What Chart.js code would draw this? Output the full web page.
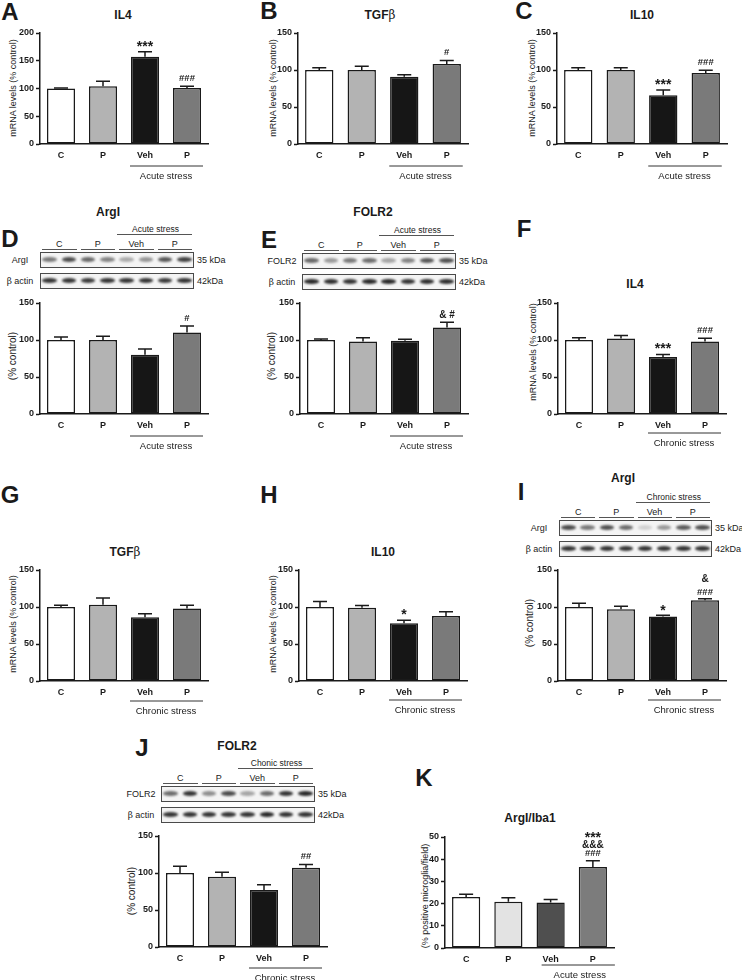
<!DOCTYPE html>
<html><head><meta charset="utf-8">
<script src="https://cdn.jsdelivr.net/npm/chart.js@4/dist/chart.umd.min.js"></script>
<style>
body{margin:0;background:#fff;}
#fig{position:relative;width:742px;height:980px;overflow:hidden;font-family:'Liberation Sans',Arial,sans-serif;color:#1a1a1a;}
.t{position:absolute;white-space:nowrap;transform:translate(-50%,-50%);line-height:1;}
.l{position:absolute;white-space:nowrap;transform:translate(0,-50%);line-height:1;}
.yt{position:absolute;white-space:nowrap;line-height:1;transform:translate(-50%,-50%) rotate(-90deg);}
.let{font-weight:bold;font-size:24px;}
.ttl{font-weight:bold;font-size:12px;}
canvas{position:absolute;}
.box{position:absolute;border:1.5px solid #4a4a4a;background:#f4f4f4;box-sizing:border-box;}
.band{position:absolute;border-radius:50%;filter:blur(0.8px);}
.hl{position:absolute;height:0;border-top:1px solid #555;}
.beta{font-family:'DejaVu Serif',serif;font-weight:normal;}
</style></head><body><div id="fig"></div>
<script>
// ---------------- DATA ----------------
const categories = ['C', 'P', 'Veh', 'P'];

const il4AcuteVals = [100, 104, 157, 101];
const il4AcuteErr  = [1, 9, 9, 3];
const il4AcuteSig  = ['', '', '***', '###'];

const tgfAcuteVals = [100, 100, 91, 108];
const tgfAcuteErr  = [3, 5, 2.5, 5];
const tgfAcuteSig  = ['', '', '', '#'];

const il10AcuteVals = [100, 100, 66, 96];
const il10AcuteErr  = [3, 3, 7, 3.5];
const il10AcuteSig  = ['', '', '***', '###'];

const argAcuteVals = [100, 100, 80, 110];
const argAcuteErr  = [4, 5, 8, 9];
const argAcuteSig  = ['', '', '', '#'];

const folrAcuteVals = [100, 98, 99, 117];
const folrAcuteErr  = [1.5, 5, 2, 7];
const folrAcuteSig  = ['', '', '', '& #'];

const il4ChronicVals = [100, 102, 77, 98];
const il4ChronicErr  = [3, 4, 3.5, 4.5];
const il4ChronicSig  = ['', '', '***', '###'];

const tgfChronicVals = [100, 103, 86, 98];
const tgfChronicErr  = [2.5, 9, 5, 4.5];
const tgfChronicSig  = ['', '', '', ''];

const il10ChronicVals = [100, 99, 78, 88];
const il10ChronicErr  = [7.5, 3, 4, 5.5];
const il10ChronicSig  = ['', '', '*', ''];

const argChronicVals = [100, 97, 87, 109];
const argChronicErr  = [5, 4, 2, 2];
const argChronicSig  = ['', '', '*', '&\n###'];

const folrChronicVals = [100, 95, 77, 107];
const folrChronicErr  = [9, 6, 7, 4.5];
const folrChronicSig  = ['', '', '', '##'];

const argIbaVals = [23, 20.8, 20.5, 36.5];
const argIbaErr  = [1.2, 1.8, 1.4, 2.8];
const argIbaSig  = ['', '', '', '***\n&&&\n###'];

// blot band darkness per lane (8 lanes)
const blotArgAcuteTop   = [0.55, 0.75, 0.62, 0.5, 0.32, 0.42, 0.7, 0.8];
const blotArgAcuteAct   = [0.85, 0.85, 0.82, 0.85, 0.85, 0.85, 0.82, 0.85];
const blotFolrAcuteTop  = [0.62, 0.4, 0.55, 0.6, 0.35, 0.5, 0.7, 0.72];
const blotFolrAcuteAct  = [0.9, 0.88, 0.85, 0.9, 0.9, 0.85, 0.88, 0.88];
const blotArgChronicTop = [0.75, 0.55, 0.72, 0.6, 0.15, 0.4, 0.68, 0.72];
const blotArgChronicAct = [0.85, 0.85, 0.85, 0.85, 0.85, 0.85, 0.85, 0.85];
const blotFolrChronicTop= [0.6, 0.85, 0.45, 0.75, 0.35, 0.6, 0.85, 0.9];
const blotFolrChronicAct= [0.85, 0.85, 0.85, 0.85, 0.85, 0.9, 0.85, 0.85];

// ---------------- STYLE / LAYOUT ----------------
const barColors = ['#ffffff', '#b3b3b3', '#161616', '#7a7a7a'];
const barColorsK = ['#ffffff', '#e3e3e3', '#4f4f4f', '#7c7c7c'];

const layout = {
  A:{ax:40, r:208, t:33, z:144, lo:22},
  B:{ax:298, r:468, t:33, z:144, lo:22},
  C:{ax:557, r:727, t:33, z:144, lo:22},
  D:{ax:40, r:208, t:303, z:414, lo:22},
  E:{ax:300, r:468, t:303, z:414, lo:22},
  F:{ax:558, r:726, t:303, z:414, lo:19},
  G:{ax:40, r:208, t:570, z:681, lo:20},
  H:{ax:299, r:467, t:570, z:681, lo:19},
  I:{ax:558, r:726, t:570, z:681, lo:19},
  J:{ax:159, r:327, t:836, z:947, lo:21},
  K:{ax:445, r:614, t:837, z:948, lo:17, lx:-9, rx:22, tx:8}
};

const fig = document.getElementById('fig');
Chart.defaults.font.family = "'Liberation Sans', Arial, sans-serif";

function el(cls, x, y, html, css) {
  const d = document.createElement('div');
  d.className = cls;
  d.style.left = x + 'px'; d.style.top = y + 'px';
  d.innerHTML = html;
  if (css) d.style.cssText += css;
  fig.appendChild(d);
  return d;
}

function sigText(ctx, text, x, cy) {
  const sz = text.includes('*') ? 14 : (text.includes('&') ? 10 : 9.5);
  ctx.font = `bold ${sz}px "Liberation Sans", Arial`;
  const m = ctx.measureText(text);
  const base = cy + (m.actualBoundingBoxAscent - m.actualBoundingBoxDescent) / 2;
  ctx.fillText(text, x, base);
}

const annot = {
  id: 'annot',
  afterDatasetsDraw(chart, args, o) {
    const ctx = chart.ctx, meta = chart.getDatasetMeta(0), ys = chart.scales.y, xs = chart.scales.x;
    const data = chart.data.datasets[0].data;
    ctx.save();
    ctx.strokeStyle = '#1a1a1a'; ctx.lineWidth = 1.5;
    meta.data.forEach((bar, i) => {
      const v = data[i], e = o.err[i];
      const yT = ys.getPixelForValue(v), yE = ys.getPixelForValue(v + e);
      ctx.beginPath();
      ctx.moveTo(bar.x, yT); ctx.lineTo(bar.x, yE);
      ctx.moveTo(bar.x - 7, yE); ctx.lineTo(bar.x + 7, yE);
      ctx.stroke();
      const s = o.sig[i];
      if (s) {
        const lines = s.split('\n');
        ctx.fillStyle = '#1a1a1a';
        ctx.textAlign = 'center'; ctx.textBaseline = 'alphabetic';
        for (let k = 0; k < lines.length; k++) {
          sigText(ctx, lines[lines.length - 1 - k], bar.x, yE - o.first - k * o.step);
        }
      }
    });
    if (o.stress) {
      const x3 = xs.getPixelForValue(2), x4 = xs.getPixelForValue(3);
      const yb = chart.chartArea.bottom + o.lo;
      ctx.beginPath(); ctx.lineWidth = 1; ctx.strokeStyle = '#333';
      ctx.moveTo(x3 + (o.lx ?? -15), yb); ctx.lineTo(x4 + (o.rx ?? 16), yb); ctx.stroke();
      ctx.fillStyle = '#1a1a1a';
      ctx.font = '9.5px "Liberation Sans", Arial';
      ctx.textAlign = 'center'; ctx.textBaseline = 'middle';
      ctx.fillText(o.stress, (x3 + x4) / 2 + (o.tx ?? 0), yb + 10);
    }
    ctx.restore();
  }
};

function makeChart(key, vals, errs, sigs, yMax, yStep, colors, stress, step, first) {
  const g = layout[key];
  const yW = 32, padT = 45, padR = 8, xH = 18, padB = 26;
  const W = yW + (g.r - g.ax) + padR;
  const H = padT + (g.z - g.t) + xH + padB;
  const c = document.createElement('canvas');
  c.width = W; c.height = H;
  c.style.left = (g.ax - yW) + 'px'; c.style.top = (g.t - padT) + 'px';
  c.style.width = W + 'px'; c.style.height = H + 'px';
  fig.appendChild(c);
  new Chart(c, {
    type: 'bar',
    data: { labels: categories, datasets: [{ data: vals, backgroundColor: colors, borderColor: '#1a1a1a', borderWidth: 1.5, borderSkipped: false, barPercentage: 0.667, categoryPercentage: 1 }] },
    options: {
      responsive: false, animation: false, devicePixelRatio: 1,
      layout: { padding: { top: padT, right: padR, bottom: padB, left: 0 } },
      plugins: { legend: { display: false }, tooltip: { enabled: false },
        annot: { err: errs, sig: sigs, stress: stress, lo: g.lo, lx: g.lx, rx: g.rx, tx: g.tx, step: step || 14, first: first || 8 } },
      scales: {
        x: { grid: { display: false, drawTicks: false }, border: { display: true, color: '#1a1a1a', width: 1.5 },
             ticks: { font: { weight: 'bold', size: 9 }, color: '#1a1a1a', padding: 6, maxRotation: 0 },
             afterFit(s) { s.height = xH; } },
        y: { min: 0, max: yMax,
             ticks: { stepSize: yStep, font: { weight: 'bold', size: 9 }, color: '#1a1a1a', padding: 2 },
             grid: { drawOnChartArea: false, drawTicks: true, tickLength: 4, tickColor: '#1a1a1a', tickWidth: 1.5 },
             border: { display: true, color: '#1a1a1a', width: 1.5 },
             afterFit(s) { s.width = yW; } }
      }
    },
    plugins: [annot]
  });
}

function blot(x, y1, w, topI, actI, topLab, stressLab) {
  const h = 16, y2 = y1 + 21, lane = w / 8;
  [[y1, topI, 5], [y2, actI, 4.5]].forEach(([yy, arr, bh]) => {
    const b = el('box', x, yy, '', `width:${w}px;height:${h}px;`);
    arr.forEach((a, i) => {
      const bw = lane * 0.76;
      const d = document.createElement('div');
      d.className = 'band';
      d.style.cssText = `left:${i * lane + (lane - bw) / 2 - 1}px;top:${(h - 3) / 2 - bh / 2}px;width:${bw}px;height:${bh}px;background:rgba(20,20,20,${a});`;
      b.appendChild(d);
    });
  });
  el('t', x - 20, y1 + 8, topLab, 'font-size:9px;');
  el('t', x - 20, y2 + 8, '<span class="beta">β</span> actin', 'font-size:9px;');
  el('l', x + w + 3, y1 + 8, '35 kDa', 'font-size:9px;');
  el('l', x + w + 3, y2 + 8, '42kDa', 'font-size:9px;');
  categories.forEach((c, i) => {
    const gx = x + (2 * i + 1) * lane;
    el('t', gx, y1 - 8, c, 'font-size:9px;');
    el('hl', gx - lane + 2, y1 - 3, '', `width:${2 * lane - 4}px;`);
  });
  el('hl', x + 4 * lane, y1 - 18, '', `width:${4 * lane - 2}px;`);
  el('t', x + 6 * lane, y1 - 23, stressLab, 'font-size:8.5px;');
}

// ---------------- TEXT ----------------
const letters = [['A',10,12],['B',269,11],['C',524,11],['D',10,239],['E',269,240],['F',524,229],
  ['G',10,495],['H',269,495],['I',521,492],['J',142,748],['K',424,778]];
letters.forEach(([s,x,y]) => el('t let', x, y, s));

const TGF = 'TGF<span class="beta">β</span>';
const titles = [['IL4',123,15],[TGF,380,15],['IL10',642,15],['ArgI',108,212],['FOLR2',373,212],['IL4',635,284],
  [TGF,125,552],['IL10',383,552],['ArgI',623,478],['FOLR2',237,746],['ArgI/Iba1',530,818]];
titles.forEach(([s,x,y]) => el('t ttl', x, y, s));

const mr = 'mRNA levels (% control)';
const ytitles = [[mr,13,88,9],[mr,273,88,9],[mr,532,88,9],['(% control)',13,356,10],['(% control)',272,356,10],
  [mr,533,352,9],[mr,13,624,9],[mr,273,624,9],['(% control)',530,623,10],['(% control)',132,891,10],
  ['(% positive microglia/field)',425,896,9]];
ytitles.forEach(([s,x,y,f]) => el('yt', x, y, s, `font-size:${f}px;`));

// ---------------- BLOTS ----------------
blot(40, 252, 154, blotArgAcuteTop, blotArgAcuteAct, 'ArgI', 'Acute stress');
blot(302, 253, 154, blotFolrAcuteTop, blotFolrAcuteAct, 'FOLR2', 'Acute stress');
blot(559, 520, 153, blotArgChronicTop, blotArgChronicAct, 'ArgI', 'Chronic stress');
blot(161, 786, 154, blotFolrChronicTop, blotFolrChronicAct, 'FOLR2', 'Chonic stress');

// ---------------- CHARTS ----------------
makeChart('A', il4AcuteVals, il4AcuteErr, il4AcuteSig, 200, 50, barColors, 'Acute stress');
makeChart('B', tgfAcuteVals, tgfAcuteErr, tgfAcuteSig, 150, 50, barColors, 'Acute stress');
makeChart('C', il10AcuteVals, il10AcuteErr, il10AcuteSig, 150, 50, barColors, 'Acute stress');
makeChart('D', argAcuteVals, argAcuteErr, argAcuteSig, 150, 50, barColors, 'Acute stress');
makeChart('E', folrAcuteVals, folrAcuteErr, folrAcuteSig, 150, 50, barColors, 'Acute stress');
makeChart('F', il4ChronicVals, il4ChronicErr, il4ChronicSig, 150, 50, barColors, 'Chronic stress');
makeChart('G', tgfChronicVals, tgfChronicErr, tgfChronicSig, 150, 50, barColors, 'Chronic stress');
makeChart('H', il10ChronicVals, il10ChronicErr, il10ChronicSig, 150, 50, barColors, 'Chronic stress');
makeChart('I', argChronicVals, argChronicErr, argChronicSig, 150, 50, barColors, 'Chronic stress', 14, 7);
makeChart('J', folrChronicVals, folrChronicErr, folrChronicSig, 150, 50, barColors, 'Chronic stress');
makeChart('K', argIbaVals, argIbaErr, argIbaSig, 50, 10, barColorsK, 'Acute stress', 9, 8);
</script></body></html>
